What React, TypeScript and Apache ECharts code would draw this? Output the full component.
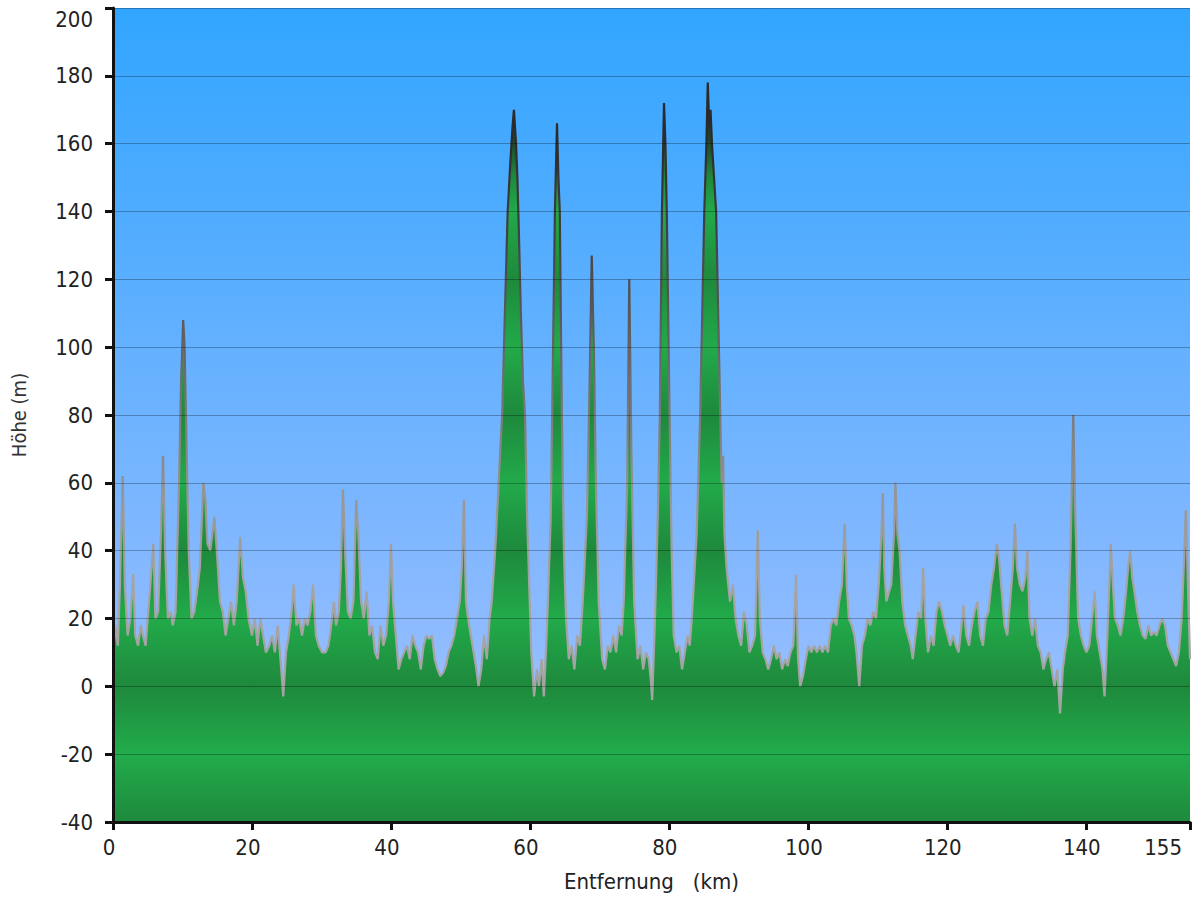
import React, { useEffect, useRef } from "react";
import * as echarts from "echarts";

const distanceKm = [
  0.0, 0.3, 0.7, 1.0, 1.4, 1.7, 2.1, 2.5, 2.9, 3.2, 3.6, 4.0, 4.3, 4.7, 5.0, 5.3, 5.8, 6.1, 6.5, 6.9,
  7.2, 7.5, 7.9, 8.3, 8.6, 9.0, 9.5, 9.8, 10.1, 10.3, 10.6, 10.9, 11.3, 11.7, 12.1, 12.5, 13.0, 13.3, 13.6, 14.0,
  14.3, 14.6, 15.0, 15.4, 15.8, 16.2, 16.6, 17.0, 17.4, 17.8, 18.3, 18.7, 19.1, 19.5, 20.0, 20.4, 20.8, 21.2, 21.6, 22.0,
  22.5, 22.9, 23.3, 23.7, 24.1, 24.5, 24.9, 25.3, 25.7, 26.0, 26.4, 26.8, 27.2, 27.6, 28.0, 28.4, 28.8, 29.2, 29.6, 30.1,
  30.6, 31.0, 31.4, 31.8, 32.1, 32.5, 32.8, 33.1, 33.4, 33.8, 34.2, 34.6, 35.0, 35.3, 35.7, 36.1, 36.5, 36.9, 37.3, 37.7,
  38.1, 38.5, 38.9, 39.3, 39.7, 40.0, 40.3, 40.7, 41.1, 41.5, 41.9, 42.3, 42.7, 43.1, 43.5, 43.9, 44.3, 44.7, 45.1, 45.5,
  45.9, 46.3, 46.7, 47.1, 47.5, 47.9, 48.3, 48.7, 49.1, 49.5, 49.9, 50.2, 50.5, 50.8, 51.1, 51.5, 51.9, 52.3, 52.6, 53.0,
  53.4, 53.8, 54.2, 54.5, 55.0, 55.5, 56.0, 56.4, 56.8, 57.2, 57.5, 57.7, 58.0, 58.2, 58.4, 58.7, 59.0, 59.3, 59.6, 59.9,
  60.2, 60.6, 61.0, 61.3, 61.7, 62.0, 62.3, 62.5, 63.0, 63.2, 63.6, 63.9, 64.1, 64.3, 64.6, 64.9, 65.2, 65.6, 66.0, 66.4,
  66.8, 67.2, 67.6, 68.2, 68.6, 68.9, 69.2, 69.5, 69.9, 70.4, 70.8, 71.2, 71.6, 72.0, 72.4, 72.8, 73.2, 73.5, 74.0, 74.3,
  74.6, 75.0, 75.5, 75.9, 76.3, 76.7, 77.1, 77.4, 77.6, 78.0, 78.4, 78.7, 79.0, 79.3, 79.5, 79.7, 80.1, 80.4, 80.7, 81.1,
  81.5, 81.9, 82.3, 82.7, 83.0, 83.3, 84.0, 84.5, 84.9, 85.1, 85.4, 85.6, 85.8, 86.0, 86.2, 86.5, 86.8, 87.1, 87.4, 87.6,
  87.8, 88.0, 88.3, 88.8, 89.2, 89.6, 90.0, 90.4, 90.8, 91.2, 91.6, 92.0, 92.4, 92.8, 93.1, 93.5, 93.9, 94.3, 94.7, 95.1,
  95.5, 95.9, 96.3, 96.7, 97.1, 97.5, 97.9, 98.3, 98.6, 98.9, 99.3, 99.7, 100.1, 100.5, 100.9, 101.3, 101.7, 102.1, 102.5, 102.9,
  103.3, 103.7, 104.1, 104.5, 104.9, 105.3, 105.6, 105.9, 106.3, 106.7, 107.0, 107.4, 107.8, 108.2, 108.6, 109.0, 109.4, 109.8, 110.2, 110.6,
  110.8, 111.0, 111.3, 111.7, 112.0, 112.4, 112.6, 112.9, 113.2, 113.6, 114.0, 114.4, 114.8, 115.1, 115.5, 115.9, 116.3, 116.6, 116.9, 117.3,
  117.7, 118.1, 118.5, 118.9, 119.3, 119.7, 120.1, 120.5, 120.9, 121.3, 121.7, 122.1, 122.4, 122.8, 123.2, 123.6, 124.0, 124.4, 124.8, 125.2,
  125.6, 126.0, 126.4, 126.8, 127.2, 127.5, 127.9, 128.3, 128.7, 129.1, 129.5, 129.8, 130.1, 130.5, 130.9, 131.3, 131.6, 131.9, 132.3, 132.7,
  133.1, 133.5, 133.9, 134.3, 134.7, 135.1, 135.5, 135.9, 136.3, 136.7, 137.0, 137.4, 137.8, 138.2, 138.5, 138.9, 139.3, 139.7, 140.1, 140.5,
  140.9, 141.3, 141.6, 142.0, 142.4, 142.7, 143.0, 143.3, 143.6, 143.9, 144.2, 144.6, 145.0, 145.4, 145.8, 146.1, 146.4, 146.7, 147.0, 147.4,
  147.8, 148.2, 148.6, 149.0, 149.4, 149.8, 150.2, 150.6, 151.0, 151.4, 151.8, 152.2, 152.6, 153.0, 153.4, 153.8, 154.1, 154.4, 154.7, 155.0,
];

const elevationM = [
  8, 18, 12, 30, 62, 30, 15, 20, 33, 15, 12, 18, 15, 12, 20, 28, 42, 20, 22, 45,
  68, 40, 20, 22, 18, 22, 60, 90, 108, 100, 70, 40, 20, 22, 28, 35, 60, 55, 42, 40,
  45, 50, 38, 25, 22, 15, 20, 25, 18, 25, 44, 32, 28, 20, 15, 20, 12, 20, 15, 10,
  12, 15, 10, 18, 8, -3, 10, 15, 22, 30, 18, 20, 15, 20, 18, 22, 30, 15, 12, 10,
  10, 12, 18, 25, 18, 22, 35, 58, 40, 22, 20, 25, 55, 45, 25, 20, 28, 15, 18, 10,
  8, 18, 12, 15, 25, 42, 25, 15, 5, 8, 10, 12, 8, 15, 12, 10, 5, 12, 15, 14,
  15, 8, 5, 3, 4, 6, 10, 12, 15, 20, 25, 35, 55, 25, 20, 15, 10, 5, 0, 5,
  15, 8, 20, 25, 40, 60, 80, 110, 140, 155, 165, 170, 160, 150, 135, 110, 90, 80, 50, 30,
  10, -3, 5, 0, 8, -3, 10, 20, 50, 80, 140, 166, 150, 140, 80, 40, 20, 8, 12, 5,
  15, 12, 25, 50, 90, 127, 100, 60, 25, 8, 5, 12, 10, 15, 10, 18, 15, 25, 60, 120,
  70, 25, 8, 12, 5, 10, 8, 2, -4, 20, 50, 80, 140, 172, 160, 140, 80, 40, 15, 10,
  12, 5, 10, 15, 12, 20, 45, 80, 120, 140, 160, 178, 165, 170, 160, 150, 140, 110, 80, 60,
  68, 45, 35, 25, 30, 20, 15, 12, 22, 18, 10, 12, 15, 46, 20, 10, 8, 5, 8, 12,
  8, 10, 5, 8, 6, 10, 12, 33, 8, 0, 3, 8, 12, 10, 12, 10, 12, 10, 12, 10,
  18, 20, 18, 25, 30, 48, 30, 20, 18, 15, 10, 0, 12, 15, 20, 18, 22, 20, 30, 45,
  57, 35, 25, 28, 30, 45, 60, 45, 40, 25, 18, 15, 12, 8, 15, 22, 20, 35, 20, 10,
  15, 12, 22, 25, 22, 18, 15, 12, 15, 12, 10, 18, 24, 15, 12, 18, 22, 25, 15, 12,
  20, 22, 30, 35, 42, 38, 28, 18, 15, 25, 35, 48, 35, 30, 28, 32, 40, 20, 15, 20,
  12, 10, 5, 8, 10, 5, 0, 5, -8, 5, 10, 15, 40, 80, 50, 20, 15, 12, 10, 12,
  20, 28, 15, 10, 5, -3, 10, 25, 42, 30, 20, 18, 15, 20, 28, 35, 40, 32, 28, 22,
  18, 15, 14, 18, 15, 16, 15, 18, 20, 18, 12, 10, 8, 6, 10, 20, 35, 52, 30, 8,
];

const X_MIN = 0;
const X_MAX = 155;
const X_INTERVAL = 20;
const Y_MIN = -40;
const Y_MAX = 200;
const Y_INTERVAL = 20;

const FONT = "'DejaVu Sans Condensed', 'Liberation Sans', sans-serif";

export default function App() {
  const ref = useRef<HTMLDivElement>(null);

  useEffect(() => {
    if (!ref.current) return;
    const chart = echarts.init(ref.current, undefined, { renderer: "svg" });

    const gridTop = 8;
    const gridBottomPx = 822;
    const off = (v: number) => (Y_MAX - v) / (Y_MAX - Y_MIN);

    const bright = "#22aa4a";
    const dark = "#1e893c";
    const areaGrad = new echarts.graphic.LinearGradient(
      0, gridTop, 0, gridBottomPx,
      [
        { offset: 0, color: "#1c1c1c" },
        { offset: off(172), color: "#202020" },
        { offset: off(160), color: "#1f4a2c" },
        { offset: off(150), color: "#1d8a3c" },
        { offset: off(140), color: bright },
        { offset: off(120), color: dark },
        { offset: off(100), color: bright },
        { offset: off(80), color: dark },
        { offset: off(60), color: bright },
        { offset: off(40), color: dark },
        { offset: off(20), color: bright },
        { offset: off(0), color: dark },
        { offset: off(-20), color: "#22ac4b" },
        { offset: 1, color: dark },
      ],
      true
    );

    const lineGrad = new echarts.graphic.LinearGradient(
      0, gridTop, 0, gridBottomPx,
      [
        { offset: 0, color: "#262626" },
        { offset: off(160), color: "#2c2c2c" },
        { offset: off(130), color: "#444444" },
        { offset: off(105), color: "#5e5e5e" },
        { offset: off(80), color: "#7a7a7a" },
        { offset: off(55), color: "#979797" },
        { offset: off(30), color: "#a4a4a4" },
        { offset: 1, color: "#a4a4a4" },
      ],
      true
    );

    const bgGrad = new echarts.graphic.LinearGradient(0, 0, 0, 1, [
      { offset: 0, color: "#31a5ff" },
      { offset: 0.75, color: "#8cbaff" },
      { offset: 1, color: "#aac8ff" },
    ]);

    const data = distanceKm.map((d, i) => [d, elevationM[i]]);

    chart.setOption({
      animation: false,
      textStyle: { fontFamily: FONT },
      grid: {
        left: 113,
        right: 10,
        top: gridTop,
        bottom: 900 - gridBottomPx,
        outerBoundsMode: "none",
        containLabel: false,
        show: true,
        backgroundColor: bgGrad,
        borderWidth: 0,
      },
      xAxis: {
        type: "value",
        min: X_MIN,
        max: X_MAX,
        interval: X_INTERVAL,
        z: 5,
        name: "Entfernung   (km)",
        nameLocation: "middle",
        nameGap: 48,
        nameTextStyle: { fontSize: 22, color: "#222", fontFamily: FONT },
        axisLine: { show: true, onZero: false, lineStyle: { color: "#111", width: 3 } },
        axisTick: { show: true, length: 8, lineStyle: { color: "#111", width: 3 } },
        axisLabel: {
          fontSize: 22,
          color: "#222",
          margin: 14,
          fontFamily: FONT,
          padding: [0, 8, 0, 0],
          alignMaxLabel: "right",
        },
        splitLine: { show: false },
      },
      yAxis: {
        type: "value",
        min: Y_MIN,
        max: Y_MAX,
        interval: Y_INTERVAL,
        z: 5,
        name: "Höhe (m)",
        nameLocation: "middle",
        nameGap: 84,
        nameTextStyle: { fontSize: 20, color: "#333", fontFamily: FONT },
        axisLine: { show: true, onZero: false, lineStyle: { color: "#111", width: 3 } },
        axisTick: { show: true, length: 8, lineStyle: { color: "#111", width: 3 } },
        axisLabel: {
          fontSize: 22,
          color: "#222",
          margin: 20,
          fontFamily: FONT,
          verticalAlignMaxLabel: "top",
        },
        splitLine: { show: true, lineStyle: { color: "rgba(0,0,0,0.28)", width: 1 } },
      },
      series: [
        {
          type: "line",
          data,
          symbol: "none",
          showSymbol: false,
          smooth: false,
          z: 2,
          lineStyle: { width: 2.2, color: lineGrad },
          areaStyle: { origin: "start", color: areaGrad, opacity: 1 },
        },
      ],
    });

    return () => chart.dispose();
  }, []);

  return (
    <div
      ref={ref}
      style={{ position: "absolute", left: 0, top: 0, width: 1200, height: 900, background: "#fff" }}
    />
  );
}
